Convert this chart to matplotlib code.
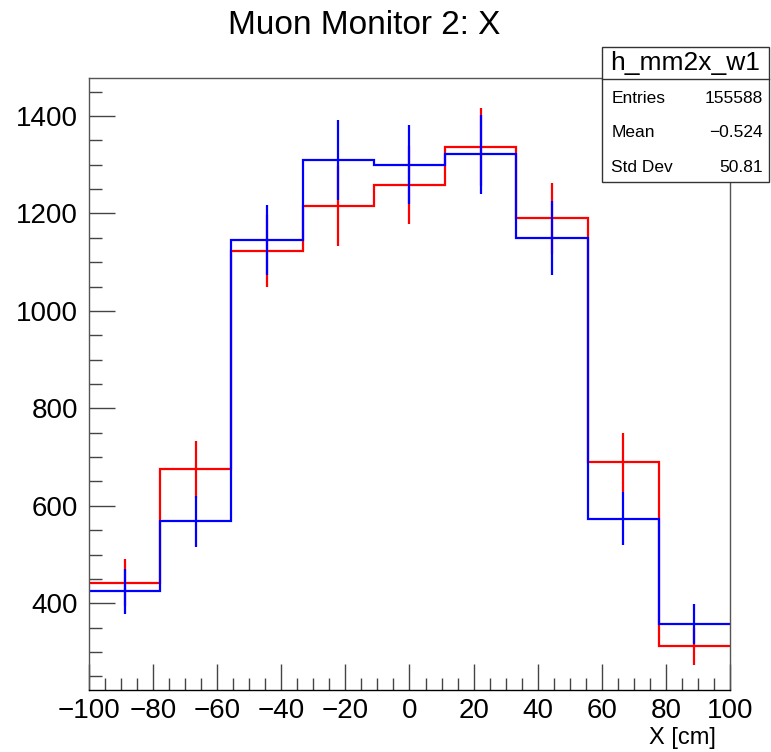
import numpy as np
import matplotlib.pyplot as plt
from matplotlib.ticker import MultipleLocator
from matplotlib.patches import Rectangle

plt.rcParams['font.family'] = ['Liberation Sans', 'DejaVu Sans']

# 9 bins from -100 to 100 cm
edges = np.linspace(-100, 100, 10)
red_counts = [442, 675, 1123, 1216, 1259, 1336, 1190, 689, 312]
red_errs = [48, 59, 73, 82, 80, 80, 73, 60, 38]
blue_counts = [425, 568, 1145, 1309, 1300, 1321, 1150, 574, 358]
blue_errs = [46, 53, 72, 82, 81, 82, 76, 55, 41]

title = "Muon Monitor 2: X"
stats_name = "h_mm2x_w1"
stats_rows = [("Entries", "155588"), ("Mean", "\u22120.524"), ("Std Dev", "50.81")]

centers = 0.5 * (edges[:-1] + edges[1:])

fig = plt.figure(figsize=(7.71, 7.52), dpi=100)
ax = fig.add_axes([0.1154, 0.0824, 0.8314, 0.8139])

for counts, errs, col in [(red_counts, red_errs, 'red'), (blue_counts, blue_errs, 'blue')]:
    ax.stairs(counts, edges, baseline=None, color=col, lw=1.6)
    ax.vlines(centers, np.array(counts) - errs, np.array(counts) + errs, color=col, lw=1.6)

ax.set_xlim(-100, 100)
ax.set_ylim(222, 1478)
ax.xaxis.set_major_locator(MultipleLocator(20))
ax.xaxis.set_minor_locator(MultipleLocator(5))
ax.yaxis.set_major_locator(MultipleLocator(200))
ax.yaxis.set_minor_locator(MultipleLocator(50))
ax.tick_params(which='both', direction='in', top=False, right=False, labelsize=20, color='#444444')
ax.tick_params(which='major', length=19, width=1)
ax.tick_params(which='minor', length=9, width=1)
ax.tick_params(axis='x', pad=6)
ax.tick_params(axis='y', pad=8)
for s in ax.spines.values():
    s.set_color('#555555')
    s.set_linewidth(1)
ax.spines['bottom'].set_color('black')

fig.text(0.473, 0.966, title, ha='center', va='center', fontsize=24)
fig.text(0.929, 0.019, "X [cm]", ha='right', va='center', fontsize=17)

# stats box
bx0, bx1, by0, by1 = 0.781, 0.997, 0.758, 0.9375
fig.patches.append(Rectangle((bx0, by0), bx1 - bx0, by1 - by0, transform=fig.transFigure,
                             facecolor='white', edgecolor='#333333', lw=1, zorder=5))
sep = 0.895
fig.add_artist(plt.Line2D([bx0, bx1], [sep, sep], transform=fig.transFigure, color='#333333', lw=1, zorder=6))
fig.text((bx0 + bx1) / 2, (sep + by1) / 2, stats_name, ha='center', va='center', fontsize=19, zorder=7)
row_h = (sep - by0) / 3
for i, (k, v) in enumerate(stats_rows):
    y = sep - row_h * (i + 0.5) - 0.003
    fig.text(bx0 + 0.012, y, k, ha='left', va='center', fontsize=12.5, zorder=7)
    fig.text(bx1 - 0.008, y, v, ha='right', va='center', fontsize=12.5, zorder=7)

fig.savefig('out.png', dpi=100)
